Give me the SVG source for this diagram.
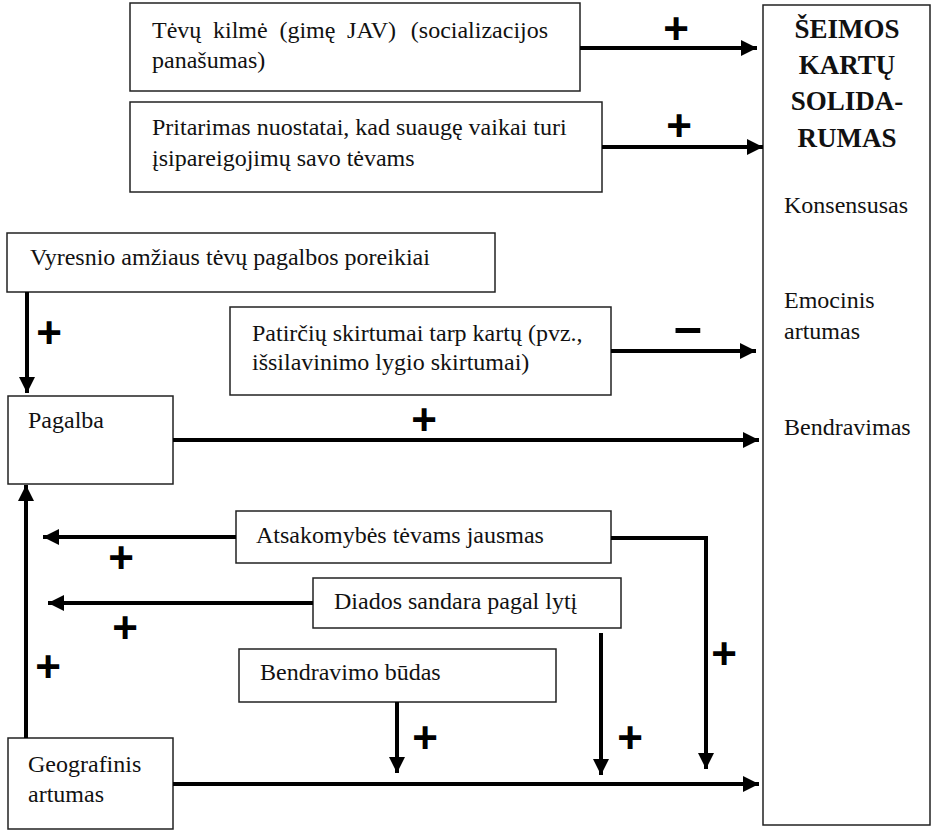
<svg xmlns="http://www.w3.org/2000/svg" width="933" height="831" viewBox="0 0 933 831">
<defs>
<marker id="ah" markerWidth="16" markerHeight="16" refX="16" refY="8" orient="auto" markerUnits="userSpaceOnUse">
<path d="M0,0 L16,8 L0,16 Z" fill="#000"/>
</marker>
<style>
.box{fill:#fff;stroke:#222;stroke-width:1.5}
.t{font-family:"Liberation Serif","Times New Roman",Times,serif;font-size:24px;fill:#111}
.tb{font-family:"Liberation Serif","Times New Roman",Times,serif;font-size:27px;font-weight:bold;fill:#111;text-anchor:middle}
.a{fill:none;stroke:#000;stroke-width:4;marker-end:url(#ah)}
.s{font-family:"Liberation Sans",Arial,sans-serif;font-size:44px;font-weight:bold;fill:#000;text-anchor:middle}
.m{font-family:"Liberation Sans",Arial,sans-serif;font-size:50px;font-weight:bold;fill:#000;text-anchor:middle}
</style>
</defs>
<rect width="933" height="831" fill="#fff"/>

<g id="target">
<rect class="box" x="763" y="5" width="167" height="820"/>
<text class="tb" x="847" y="38">ŠEIMOS</text>
<text class="tb" x="847" y="74">KARTŲ</text>
<text class="tb" x="847" y="110">SOLIDA-</text>
<text class="tb" x="847" y="147">RUMAS</text>
<text class="t" x="784" y="213">Konsensusas</text>
<text class="t" x="784" y="308">Emocinis</text>
<text class="t" x="784" y="339">artumas</text>
<text class="t" x="784" y="435">Bendravimas</text>
</g>

<g id="kilme">
<rect class="box" x="130" y="3" width="450" height="88"/>
<text class="t" y="38"><tspan x="152">Tėvų</tspan><tspan x="213">kilmė</tspan><tspan x="279.4">(gimę</tspan><tspan x="347.1">JAV)</tspan><tspan x="410.8">(socializacijos</tspan></text>
<text class="t" x="152" y="68">panašumas)</text>
</g>

<g id="pritarimas">
<rect class="box" x="130" y="102" width="472" height="90"/>
<text class="t" x="152" y="135">Pritarimas nuostatai, kad suaugę vaikai turi</text>
<text class="t" x="152" y="166">įsipareigojimų savo tėvams</text>
</g>

<g id="poreikiai">
<rect class="box" x="7" y="233" width="488" height="59"/>
<text class="t" x="30" y="265">Vyresnio amžiaus tėvų pagalbos poreikiai</text>
</g>

<g id="patirtys">
<rect class="box" x="230" y="307" width="381" height="88"/>
<text class="t" x="252" y="341">Patirčių skirtumai tarp kartų (pvz.,</text>
<text class="t" x="252" y="370">išsilavinimo lygio skirtumai)</text>
</g>

<g id="pagalba">
<rect class="box" x="8" y="396" width="165" height="88"/>
<text class="t" x="28" y="428">Pagalba</text>
</g>

<g id="atsakomybe">
<rect class="box" x="236" y="511" width="375" height="52"/>
<text class="t" x="256" y="543">Atsakomybės tėvams jausmas</text>
</g>

<g id="diados">
<rect class="box" x="313" y="578" width="308" height="50"/>
<text class="t" x="334" y="609">Diados sandara pagal lytį</text>
</g>

<g id="budas">
<rect class="box" x="239" y="649" width="317" height="53"/>
<text class="t" x="260" y="680">Bendravimo būdas</text>
</g>

<g id="geografinis">
<rect class="box" x="8" y="738" width="165" height="91"/>
<text class="t" x="28" y="772">Geografinis</text>
<text class="t" x="28" y="802">artumas</text>
</g>

<g id="connectors">
<path class="a" d="M580,48 H757"/>
<path class="a" d="M602,147 H763"/>
<path class="a" d="M27,292 V393"/>
<path class="a" d="M611,351 H756"/>
<path class="a" d="M173,440 H759"/>
<path class="a" d="M26,738 V485"/>
<path class="a" d="M236,537 H43"/>
<path class="a" d="M313,603 H48"/>
<path class="a" d="M611,538 H706 V769"/>
<path class="a" d="M601,633 V775"/>
<path class="a" d="M397,702 V773"/>
<path class="a" d="M173,784 H759"/>
<text class="s" x="676" y="44">+</text>
<text class="s" x="679" y="141">+</text>
<text class="s" x="49" y="348">+</text>
<text class="s" x="424" y="435">+</text>
<text class="m" x="688" y="344">–</text>
<text class="s" x="121" y="573">+</text>
<text class="s" x="125" y="643">+</text>
<text class="s" x="48" y="682">+</text>
<text class="s" x="724" y="669">+</text>
<text class="s" x="425" y="753">+</text>
<text class="s" x="630" y="753">+</text>
</g>
</svg>
